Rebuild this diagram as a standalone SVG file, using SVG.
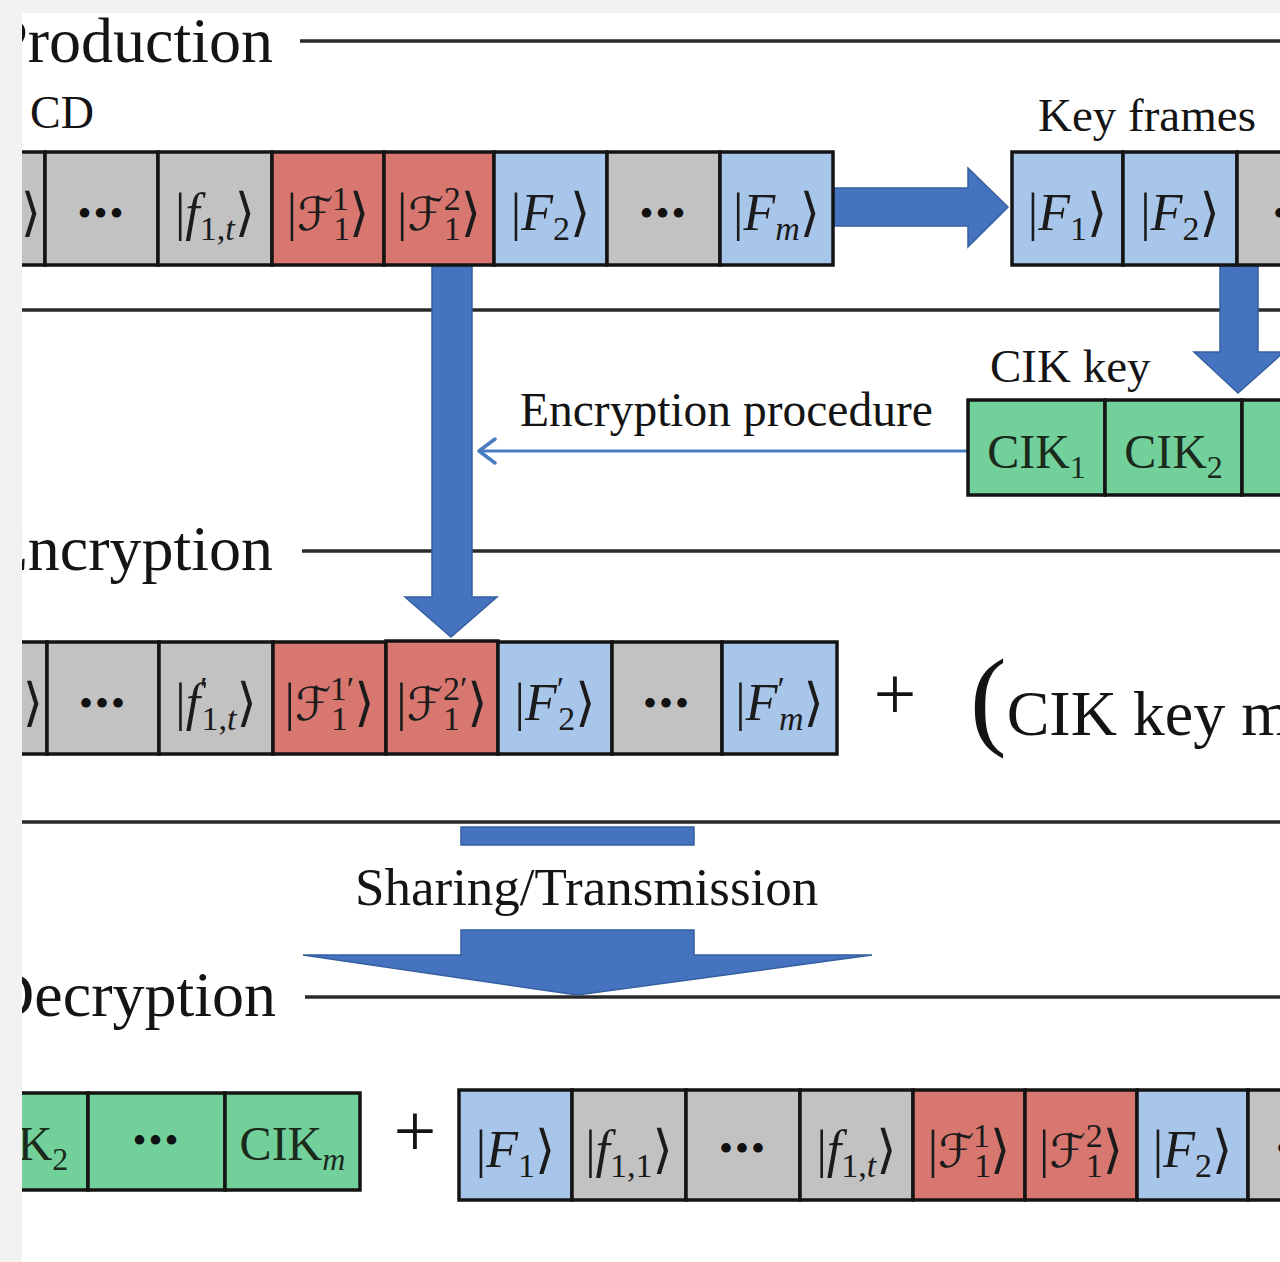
<svg xmlns="http://www.w3.org/2000/svg" width="1280" height="1262" viewBox="0 0 1280 1262">
  <defs>
    <style>
      .t{font-family:"Liberation Serif","DejaVu Serif",serif;fill:#141414}
      .sec{font-size:64px;text-anchor:end}
      .cap{font-size:47px}
      .k{font-family:"Liberation Serif","DejaVu Serif","DejaVu Sans",serif;font-size:52px;text-anchor:middle;fill:#1b1b1b}
      .ck{font-family:"Liberation Serif","DejaVu Serif",serif;font-size:48px;text-anchor:middle;fill:#1b2a1b}
      .i{font-style:italic}
      .s{font-size:34px}
      .c{font-family:"DejaVu Serif","DejaVu Sans",serif;font-style:italic;font-size:46px}
      .dots{font-family:"Liberation Serif","DejaVu Serif",serif;font-size:40px;text-anchor:middle;letter-spacing:2px;fill:#111}
      .ln{stroke:#2a2a2a;stroke-width:3.5}
      .bx rect{stroke:#141414;stroke-width:3.5}
      .g{fill:#c2c2c2}
      .r{fill:#d8776f}
      .b{fill:#a8c5ea}
      .gr{fill:#72d09b}
      .ar{fill:#4573c0;stroke:#35609f;stroke-width:1.5}
    </style>
    <clipPath id="page"><rect x="22" y="13" width="1258" height="1249"/></clipPath>
    <marker id="chev" viewBox="0 0 24 28" refX="21" refY="14" markerWidth="24" markerHeight="28" markerUnits="userSpaceOnUse" orient="auto">
      <path d="M 5 2 L 21 14 L 5 26" fill="none" stroke="#4a7cc2" stroke-width="3.5" stroke-linecap="round" stroke-linejoin="round"/>
    </marker>
  </defs>

  <!-- page margin and sheet -->
  <rect width="1280" height="1262" fill="#f2f2f2"/>
  <rect x="22" y="13" width="1258" height="1249" fill="#ffffff"/>

  <g clip-path="url(#page)">
    <!-- stage separators -->
    <g id="stages">
      <line class="ln" x1="300" y1="41" x2="1280" y2="41"/>
      <line class="ln" x1="22" y1="310" x2="1280" y2="310"/>
      <line class="ln" x1="302" y1="551" x2="1280" y2="551"/>
      <line class="ln" x1="22" y1="822" x2="1280" y2="822"/>
      <line class="ln" x1="305" y1="997" x2="1280" y2="997"/>
      <text class="t sec" x="273" y="62">Production</text>
      <text class="t sec" x="273" y="570">Encryption</text>
      <text class="t sec" x="276" y="1016">Decryption</text>
    </g>

    <!-- connectors -->
    <g id="connectors">
      <polygon class="ar" points="833,188 968,188 968,168 1008,207 968,247 968,226 833,226"/>
      <polygon class="ar" points="1220,265 1258,265 1258,352 1284,352 1238,393 1194,352 1220,352"/>
      <polygon class="ar" points="432,265 472,265 472,597 497,597 451,637 405,597 432,597"/>
      <line x1="968" y1="451" x2="479" y2="451" stroke="#4a7cc2" stroke-width="3" marker-end="url(#chev)"/>
      <text class="t" x="520" y="426" font-size="47.5">Encryption procedure</text>
      <rect class="ar" x="461" y="827" width="233" height="18"/>
      <polygon class="ar" points="461,930 694,930 694,955 872,955 577,995 303,955 461,955"/>
      <text class="t" x="355" y="905" font-size="53">Sharing/Transmission</text>
    </g>

    <!-- original compressed data -->
    <g id="cd-row" class="bx">
      <text class="t" x="30" y="128" font-size="46">CD</text>
      <rect class="g" x="-68" y="152" width="113" height="113"/>
      <rect class="g" x="45" y="152" width="113" height="113"/>
      <rect class="g" x="158" y="152" width="114" height="113"/>
      <rect class="r" x="272" y="152" width="112" height="113"/>
      <rect class="r" x="384" y="152" width="110" height="113"/>
      <rect class="b" x="494" y="152" width="113" height="113"/>
      <rect class="g" x="607" y="152" width="113" height="113"/>
      <rect class="b" x="720" y="152" width="113" height="113"/>
      <text class="k" x="41" y="230" style="text-anchor:end">⟩</text>
      <text class="dots" x="101.5" y="227">•••</text>
      <text class="k" x="215" y="230">|<tspan class="i">f</tspan><tspan class="s" dy="10">1,<tspan class="i">t</tspan></tspan><tspan dy="-10">⟩</tspan></text>
      <text class="k" x="328" y="230">|<tspan class="c">ℱ</tspan><tspan class="s" dy="10">1</tspan><tspan class="s" dx="-17" dy="-30">1</tspan><tspan dy="20">⟩</tspan></text>
      <text class="k" x="439" y="230">|<tspan class="c">ℱ</tspan><tspan class="s" dy="10">1</tspan><tspan class="s" dx="-17" dy="-30">2</tspan><tspan dy="20">⟩</tspan></text>
      <text class="k" x="550.5" y="230">|<tspan class="i">F</tspan><tspan class="s" dy="10">2</tspan><tspan dy="-10">⟩</tspan></text>
      <text class="dots" x="663.5" y="227">•••</text>
      <text class="k" x="776.5" y="230">|<tspan class="i">F</tspan><tspan class="s i" dy="10">m</tspan><tspan dy="-10">⟩</tspan></text>
    </g>

    <!-- key frames -->
    <g id="key-frames" class="bx">
      <text class="t cap" x="1038" y="131">Key frames</text>
      <rect class="b" x="1012" y="152" width="111" height="113"/>
      <rect class="b" x="1123" y="152" width="114" height="113"/>
      <rect class="g" x="1237" y="152" width="113" height="113"/>
      <text class="k" x="1067.5" y="230">|<tspan class="i">F</tspan><tspan class="s" dy="10">1</tspan><tspan dy="-10">⟩</tspan></text>
      <text class="k" x="1180" y="230">|<tspan class="i">F</tspan><tspan class="s" dy="10">2</tspan><tspan dy="-10">⟩</tspan></text>
      <text class="dots" x="1297" y="227">•••</text>
    </g>

    <!-- CIK key -->
    <g id="cik-key" class="bx">
      <text class="t cap" x="990" y="382">CIK key</text>
      <rect class="gr" x="968" y="400" width="137" height="95"/>
      <rect class="gr" x="1105" y="400" width="137" height="95"/>
      <rect class="gr" x="1242" y="400" width="137" height="95"/>
      <text class="ck" x="1036.5" y="468">CIK<tspan font-size="32" dy="10">1</tspan></text>
      <text class="ck" x="1173.5" y="468">CIK<tspan font-size="32" dy="10">2</tspan></text>
    </g>

    <!-- encrypted data -->
    <g id="encrypted-row" class="bx">
      <rect class="g" x="-68" y="642" width="115" height="112"/>
      <rect class="g" x="47" y="642" width="112" height="112"/>
      <rect class="g" x="159" y="642" width="114" height="112"/>
      <rect class="r" x="273" y="642" width="113" height="112"/>
      <rect class="r" x="386" y="641" width="112" height="113"/>
      <rect class="b" x="498" y="642" width="114" height="112"/>
      <rect class="g" x="612" y="642" width="110" height="112"/>
      <rect class="b" x="722" y="642" width="115" height="112"/>
      <text class="k" x="43" y="720" style="text-anchor:end">⟩</text>
      <text class="dots" x="103" y="717">•••</text>
      <text class="k" x="216" y="720">|<tspan class="i">f</tspan><tspan class="s" dy="-20">′</tspan><tspan class="s" dx="-6" dy="30">1,<tspan class="i">t</tspan></tspan><tspan dy="-10">⟩</tspan></text>
      <text class="k" x="329.5" y="720">|<tspan class="c">ℱ</tspan><tspan class="s" dy="10">1</tspan><tspan class="s" dx="-17" dy="-30">1′</tspan><tspan dy="20">⟩</tspan></text>
      <text class="k" x="442" y="720">|<tspan class="c">ℱ</tspan><tspan class="s" dy="10">1</tspan><tspan class="s" dx="-17" dy="-30">2′</tspan><tspan dy="20">⟩</tspan></text>
      <text class="k" x="555" y="720">|<tspan class="i">F</tspan><tspan class="s" dy="-20">′</tspan><tspan class="s" dx="-6" dy="30">2</tspan><tspan dy="-10">⟩</tspan></text>
      <text class="dots" x="667" y="717">•••</text>
      <text class="k" x="779.5" y="720">|<tspan class="i">F</tspan><tspan class="s" dy="-20">′</tspan><tspan class="s i" dx="-6" dy="30">m</tspan><tspan dy="-10">⟩</tspan></text>
      <text class="t" x="895" y="719" font-size="76" text-anchor="middle">+</text>
      <text class="t" x="970" y="735" font-size="64"><tspan font-size="110">(</tspan>CIK key m</text>
    </g>

    <!-- decryption: keys plus data -->
    <g id="cik-received" class="bx">
      <rect class="gr" x="-50" y="1093" width="138" height="97"/>
      <rect class="gr" x="88" y="1093" width="137" height="97"/>
      <rect class="gr" x="225" y="1093" width="135" height="97"/>
      <text class="ck" x="19" y="1160">CIK<tspan font-size="32" dy="10">2</tspan></text>
      <text class="dots" x="156.5" y="1154">•••</text>
      <text class="ck" x="292.5" y="1160">CIK<tspan class="i" font-size="32" dy="10">m</tspan></text>
      <text class="t" x="415" y="1156" font-size="76" text-anchor="middle">+</text>
    </g>

    <g id="data-received" class="bx">
      <rect class="b" x="459" y="1090" width="113" height="110"/>
      <rect class="g" x="572" y="1090" width="114" height="110"/>
      <rect class="g" x="686" y="1090" width="114" height="110"/>
      <rect class="g" x="800" y="1090" width="113" height="110"/>
      <rect class="r" x="913" y="1090" width="112" height="110"/>
      <rect class="r" x="1025" y="1090" width="112" height="110"/>
      <rect class="b" x="1137" y="1090" width="111" height="110"/>
      <rect class="g" x="1248" y="1090" width="113" height="110"/>
      <text class="k" x="515.5" y="1167">|<tspan class="i">F</tspan><tspan class="s" dy="10">1</tspan><tspan dy="-10">⟩</tspan></text>
      <text class="k" x="629" y="1167">|<tspan class="i">f</tspan><tspan class="s" dy="10">1,1</tspan><tspan dy="-10">⟩</tspan></text>
      <text class="dots" x="743" y="1162">•••</text>
      <text class="k" x="856.5" y="1167">|<tspan class="i">f</tspan><tspan class="s" dy="10">1,<tspan class="i">t</tspan></tspan><tspan dy="-10">⟩</tspan></text>
      <text class="k" x="969" y="1167">|<tspan class="c">ℱ</tspan><tspan class="s" dy="10">1</tspan><tspan class="s" dx="-17" dy="-30">1</tspan><tspan dy="20">⟩</tspan></text>
      <text class="k" x="1081" y="1167">|<tspan class="c">ℱ</tspan><tspan class="s" dy="10">1</tspan><tspan class="s" dx="-17" dy="-30">2</tspan><tspan dy="20">⟩</tspan></text>
      <text class="k" x="1192.5" y="1167">|<tspan class="i">F</tspan><tspan class="s" dy="10">2</tspan><tspan dy="-10">⟩</tspan></text>
      <text class="dots" x="1300" y="1162">•••</text>
    </g>
  </g>
</svg>
